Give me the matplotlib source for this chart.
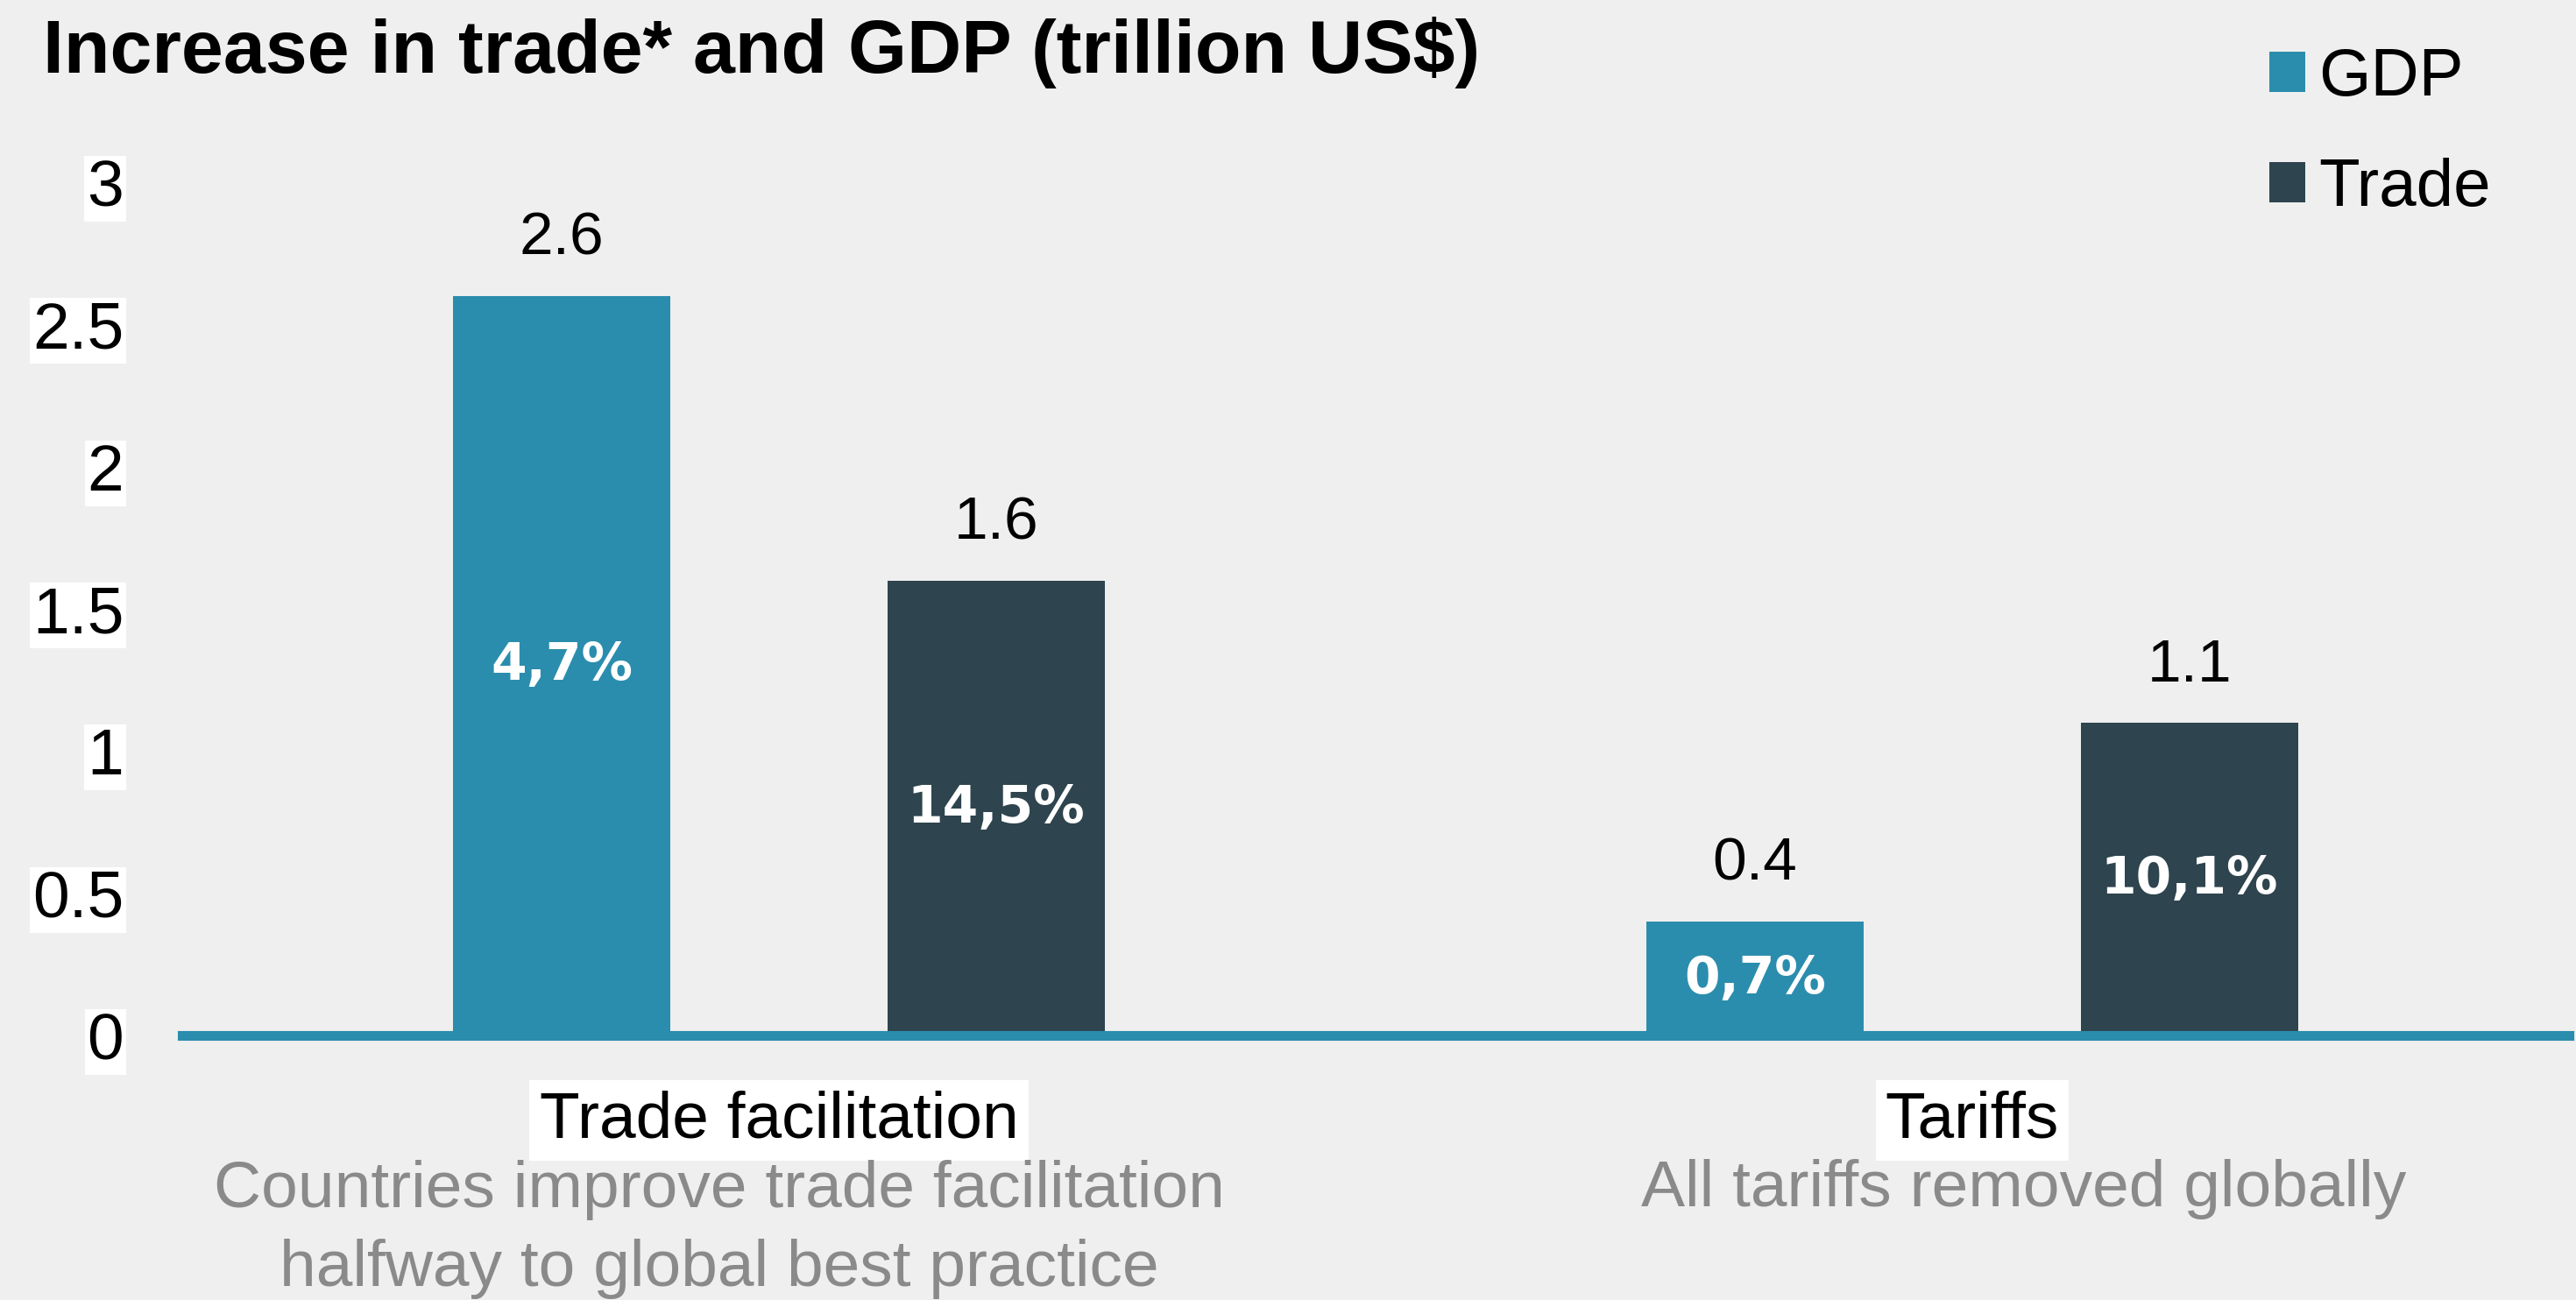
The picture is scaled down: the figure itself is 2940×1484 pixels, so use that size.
import matplotlib
matplotlib.use('Agg')
import matplotlib.pyplot as plt
from matplotlib.transforms import blended_transform_factory
import numpy as np

# ---- data ----
categories = ['Trade facilitation', 'Tariffs']
scenario_notes = ['Countries improve trade facilitation\nhalfway to global best practice',
                  'All tariffs removed globally']
series_names = ['GDP', 'Trade']
gdp_values = [2.6, 0.4]
trade_values = [1.6, 1.1]
gdp_pct_labels = ['4,7%', '0,7%']
trade_pct_labels = ['14,5%', '10,1%']
yticks = [0, 0.5, 1, 1.5, 2, 2.5, 3]
ytick_labels = ['0', '0.5', '1', '1.5', '2', '2.5', '3']
title = 'Increase in trade* and GDP (trillion US$)'

# ---- style ----
BG = '#efefef'
GDP_COLOR = '#2b8dad'
TRADE_COLOR = '#2e444e'
NOTE_COLOR = '#8a8a8a'
FONT = ['Liberation Sans', 'DejaVu Sans']

plt.rcParams['font.family'] = FONT

fig = plt.figure(figsize=(14.7, 7.42), dpi=200, facecolor=BG)
ax = fig.add_axes([0.0707, 0.2035, 0.9266, 0.6563])
ax.set_facecolor(BG)

x = np.arange(len(categories))
w = 0.182
b1 = ax.bar(x - w, gdp_values, width=w, color=GDP_COLOR, label=series_names[0], zorder=2)
b2 = ax.bar(x + w, trade_values, width=w, color=TRADE_COLOR, label=series_names[1], zorder=2)

ax.set_xlim(-0.5, 1.5)
ax.set_ylim(0, 3)

# zero line
ax.axhline(0, color=GDP_COLOR, lw=4, zorder=3, clip_on=False)

for s in ax.spines.values():
    s.set_visible(False)

# y ticks
ax.set_yticks(yticks)
ax.set_yticklabels(ytick_labels)
ax.tick_params(axis='y', length=0, pad=24, labelsize=27)
for t in ax.get_yticklabels():
    t.set_bbox(dict(facecolor='white', edgecolor='none', pad=1))

# x ticks (categories)
ax.set_xticks(x)
ax.set_xticklabels(categories)
ax.tick_params(axis='x', length=0, pad=22.5, labelsize=27)
for t in ax.get_xticklabels():
    t.set_bbox(dict(facecolor='white', edgecolor='none', pad=4))

# value labels above bars
for bars in (b1, b2):
    for rect in bars:
        h = rect.get_height()
        ax.annotate(f'{h:.1f}', xy=(rect.get_x() + rect.get_width() / 2, h),
                    xytext=(0, 17), textcoords='offset points',
                    ha='center', va='baseline', fontsize=25, color='black')

# percentage labels inside bars
ax.bar_label(b1, labels=gdp_pct_labels, label_type='center', color='white',
             fontsize=21, fontweight='bold', family=['DejaVu Sans'])
ax.bar_label(b2, labels=trade_pct_labels, label_type='center', color='white',
             fontsize=21, fontweight='bold', family=['DejaVu Sans'])

# scenario notes under category labels
trans = blended_transform_factory(ax.transData, fig.transFigure)
note_x = [-0.05, 1.043]
note_y = [0.1078, 0.1085]
for xi, yi, note in zip(note_x, note_y, scenario_notes):
    ax.text(xi, yi, note, transform=trans, ha='center', va='top',
            fontsize=27, color=NOTE_COLOR, linespacing=1.38, multialignment='center')

# title
fig.text(49 / 2940, 1 - 83 / 1484, title, ha='left', va='baseline',
         fontsize=31, fontweight='bold', color='black')

# legend
ax.legend(loc='upper left', bbox_to_anchor=(2590 / 2940, 1 - 54 / 1484),
          bbox_transform=fig.transFigure, frameon=False, borderpad=0,
          borderaxespad=0, handlelength=0.54, handleheight=0.54,
          handletextpad=0.2, labelspacing=0.72, fontsize=27.5)

fig.savefig('out.png', dpi=200, facecolor=BG)
